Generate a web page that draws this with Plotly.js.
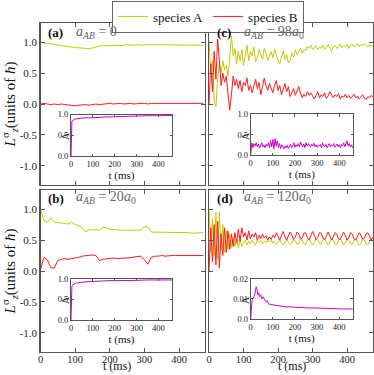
<!DOCTYPE html>
<html>
<head>
<meta charset="utf-8">
<script src="https://cdn.plot.ly/plotly-3.0.1.min.js"></script>
<style>
  html, body { margin: 0; padding: 0; background: #fff; }
  #chart { width: 374px; height: 375px; }
</style>
</head>
<body>
<div id="chart"></div>
<script>
"use strict";

// ---- data ----

// panels (a) and (b): time grid, every 10 ms
var tAB = [0,10,20,30,40,50,60,70,80,90,100,110,120,130,140,150,160,170,180,190,200,210,220,230,
	240,250,260,270,280,290,300,310,320,330,340,350,360,370,380,390,400,410,420,430,440,450,460,470];

var aSpeciesA = [1.00,0.98,0.98,0.97,0.96,0.96,0.95,0.94,0.93,0.92,0.91,0.91,0.91,0.90,0.89,0.91,0.93,0.94,0.94,0.94,
	0.95,0.95,0.94,0.95,0.95,0.96,0.95,0.95,0.96,0.95,0.95,0.96,0.96,0.95,0.95,0.96,0.95,0.95,0.95,0.96,
	0.95,0.95,0.95,0.95,0.96,0.95,0.95,0.95];
var aSpeciesB = [0.00,0.01,0.00,-0.01,0.00,-0.01,0.00,-0.01,-0.02,-0.02,-0.03,-0.02,-0.01,-0.01,-0.02,-0.01,0.00,-0.01,0.00,0.00,
	0.01,0.00,0.01,0.01,0.00,0.01,0.01,0.00,0.01,0.01,0.01,0.00,0.01,0.01,0.01,0.00,0.01,0.01,0.01,0.01,
	0.00,0.01,0.01,0.01,0.00,0.01,0.01,0.01];

var bSpeciesA = [1.00,0.81,0.79,0.86,0.79,0.78,0.78,0.77,0.76,0.79,0.75,0.73,0.70,0.63,0.67,0.66,0.67,0.66,0.71,0.70,
	0.67,0.67,0.66,0.66,0.66,0.66,0.66,0.65,0.66,0.66,0.72,0.71,0.63,0.63,0.63,0.62,0.62,0.62,0.62,0.62,
	0.62,0.62,0.62,0.62,0.61,0.62,0.62,0.62];
var bSpeciesB = [0.02,0.22,0.18,0.05,0.05,0.17,0.19,0.20,0.19,0.20,0.20,0.22,0.24,0.25,0.25,0.26,0.25,0.17,0.19,0.20,
	0.20,0.21,0.20,0.21,0.21,0.21,0.22,0.22,0.23,0.24,0.18,0.11,0.22,0.24,0.24,0.25,0.24,0.25,0.25,0.25,
	0.25,0.26,0.25,0.25,0.25,0.26,0.25,0.25];

// panels (c) and (d): time grid, every 5 ms
var tCD = [0,5,10,15,20,25,30,35,40,45,50,55,60,65,70,75,80,85,90,95,100,105,110,115,120,125,130,135,140,145,
	150,155,160,165,170,175,180,185,190,195,200,205,210,215,220,225,230,235,240,245,250,255,260,265,270,275,
	280,285,290,295,300,305,310,315,320,325,330,335,340,345,350,355,360,365,370,375,380,385,390,395,400,405,
	410,415,420,425,430,435,440,445,450,455,460,465,470,475];

var cSpeciesA = [1.00,0.55,0.70,0.05,-0.05,0.40,0.65,0.50,0.70,0.55,0.62,0.45,0.75,1.10,0.78,0.90,0.65,0.85,0.70,0.88,
	0.62,0.80,0.95,0.70,0.85,0.78,0.92,0.68,0.75,0.88,0.80,0.72,0.90,0.82,0.70,0.78,0.85,0.75,0.88,0.80,
	0.70,0.65,0.78,0.86,0.72,0.80,0.66,0.70,0.82,0.76,0.88,0.80,0.84,0.90,0.82,0.88,0.86,0.93,0.90,0.95,
	0.88,0.92,0.94,0.88,0.92,0.90,0.95,0.88,0.93,0.96,0.90,0.85,0.92,0.95,0.90,0.94,0.97,0.91,0.94,0.92,
	0.96,0.90,0.95,0.97,0.92,0.95,0.98,0.93,0.96,0.94,0.97,0.95,0.92,0.96,0.94,0.93];
var cSpeciesB = [0.00,0.65,0.20,0.85,0.40,1.05,0.70,0.30,0.50,0.35,0.45,0.20,-0.10,0.15,0.45,0.30,0.40,0.25,0.38,0.20,
	0.35,0.30,0.42,0.22,0.30,0.18,0.32,0.40,0.25,0.35,0.15,0.28,0.42,0.30,0.22,0.33,0.25,0.18,0.30,0.38,
	0.22,0.30,0.15,0.25,0.33,0.20,0.28,0.12,0.18,0.25,0.14,0.20,0.28,0.18,0.10,0.16,0.12,0.20,0.14,0.18,
	0.12,0.08,0.14,0.20,0.10,0.15,0.12,0.18,0.09,0.13,0.20,0.14,0.10,0.15,0.12,0.17,0.08,0.13,0.11,0.16,
	0.10,0.14,0.09,0.12,0.16,0.10,0.13,0.08,0.12,0.15,0.10,0.07,0.12,0.10,0.14,0.11];

var dSpeciesA = [1.00,0.30,0.85,0.25,0.95,0.20,0.95,0.35,0.75,0.30,0.65,0.35,0.60,0.38,0.55,0.40,0.52,0.38,0.50,0.40,
	0.45,0.50,0.42,0.48,0.44,0.50,0.45,0.42,0.50,0.46,0.49,0.44,0.48,0.46,0.50,0.47,0.50,0.45,0.48,0.43,
	0.46,0.51,0.45,0.42,0.47,0.52,0.46,0.43,0.45,0.51,0.49,0.43,0.44,0.51,0.50,0.44,0.43,0.49,0.52,0.47,
	0.42,0.46,0.52,0.50,0.44,0.43,0.50,0.52,0.46,0.42,0.46,0.52,0.50,0.44,0.43,0.50,0.52,0.47,0.42,0.46,
	0.52,0.50,0.44,0.43,0.50,0.52,0.46,0.42,0.45,0.51,0.50,0.44,0.43,0.49,0.52,0.48];
var dSpeciesB = [0.00,0.70,0.15,0.75,0.10,0.80,0.05,0.60,0.25,0.70,0.30,0.65,0.35,0.60,0.40,0.62,0.45,0.68,0.48,0.70,
	0.55,0.62,0.50,0.65,0.52,0.60,0.55,0.62,0.50,0.58,0.52,0.60,0.53,0.57,0.50,0.55,0.51,0.58,0.54,0.62,
	0.56,0.50,0.58,0.64,0.55,0.50,0.57,0.63,0.58,0.51,0.55,0.63,0.60,0.52,0.53,0.61,0.62,0.54,0.50,0.58,
	0.64,0.58,0.51,0.54,0.62,0.61,0.53,0.51,0.58,0.63,0.57,0.50,0.55,0.62,0.60,0.52,0.51,0.58,0.63,0.57,
	0.50,0.54,0.62,0.60,0.52,0.50,0.57,0.62,0.58,0.51,0.53,0.60,0.62,0.55,0.50,0.55];

// insets: Lambda vs t
var tLamAB = [0,1,2,4,6,10,15,20,30,40,60,80,100,130,160,200,250,300,350,400,450,475];
var aLambda = [0,0.40,0.70,0.82,0.85,0.87,0.88,0.89,0.90,0.91,0.92,0.92,0.93,0.93,0.94,0.95,0.96,0.96,0.97,0.97,0.98,0.98];
var bLambda = [0,0.40,0.70,0.80,0.84,0.86,0.88,0.89,0.90,0.91,0.92,0.93,0.93,0.94,0.95,0.95,0.96,0.96,0.97,0.97,0.97,0.97];
var cLambda = [0.00,0.30,0.18,0.28,0.22,0.30,0.20,0.27,0.17,0.25,0.30,0.20,0.24,0.18,0.26,0.22,0.30,0.18,0.35,0.20,
	0.38,0.15,0.40,0.22,0.35,0.18,0.28,0.16,0.25,0.20,0.15,0.22,0.18,0.24,0.16,0.20,0.26,0.18,0.22,0.30,
	0.19,0.25,0.21,0.28,0.20,0.32,0.24,0.20,0.27,0.18,0.30,0.22,0.28,0.24,0.20,0.26,0.22,0.29,0.21,0.25,
	0.19,0.24,0.22,0.26,0.18,0.30,0.22,0.20,0.26,0.18,0.24,0.28,0.20,0.25,0.22,0.28,0.19,0.24,0.27,0.20,
	0.25,0.18,0.26,0.22,0.30,0.20,0.27,0.35,0.22,0.28,0.20,0.25,0.18,0.22,0.16,0.18];
var tLamD = [0,3,6,10,15,20,25,28,32,36,40,45,50,55,60,65,70,75,80,90,100,110,120,140,160,180,200,230,260,290,320,350,380,410,440,475];
var dLambda = [0,0.006,0.009,0.010,0.011,0.013,0.016,0.015,0.012,0.013,0.011,0.012,0.010,0.011,0.010,0.009,0.0085,0.009,0.0075,0.0072,
	0.007,0.0068,0.0065,0.0063,0.006,0.006,0.0058,0.0057,0.0055,0.0055,0.0053,0.0052,0.0051,0.005,0.005,0.005];

// tick labels
var mainYTickVals = [-1,-0.5,0,0.5,1];
var mainYTickText = ['-1.0','-0.5','0.0','0.5','1.0'];
var xTickVals = [0,100,200,300,400];
var lamTickVals = [0,0.5,1];
var lamTickText = ['0.0','0.5','1.0'];
var lamDTickVals = [0,0.01,0.02];
var lamDTickText = ['0.0','0.01','0.02'];

// ---- styling ----
var serif = 'Liberation Serif, Times New Roman, serif';
var colA = '#c8c800';
var colB = '#ff1a1a';
var colL = '#cc00cc';
var frame = '#555';

// plot area in pixels: l=40, t=23, w=333, h=329
function px2x(px){ return (px-40)/333; }
function py2y(py){ return 1-(py-23)/329; }

function mainAxis(domain, showLabels, extra){
	var ax = {
		domain: domain,
		showline: true, linecolor: frame, linewidth: 1.2, mirror: 'ticks',
		ticks: 'inside', ticklen: 4, tickcolor: frame, tickwidth: 1,
		showgrid: false, zeroline: false,
		showticklabels: showLabels,
		tickfont: {family: serif, size: 11, color: '#222'}
	};
	return Object.assign(ax, extra);
}
function insetAxis(domain, extra){
	var ax = {
		domain: domain,
		showline: true, linecolor: frame, linewidth: 1, mirror: 'ticks',
		ticks: 'inside', ticklen: 2.5, tickcolor: frame, tickwidth: 1,
		showgrid: false, zeroline: false,
		tickfont: {family: serif, size: 8.5, color: '#222'}
	};
	return Object.assign(ax, extra);
}

var mainX = {range: [0, 475], tickvals: xTickVals};
var bottomX = {range: [0, 475], tickvals: xTickVals, ticklabelstandoff: -3,
	tickfont: {family: serif, size: 10.5, color: '#222'}};
var mainY = {range: [-1.31, 1.31], tickvals: mainYTickVals, ticktext: mainYTickText};
var yTitle = {text: '<i>L</i><sup>σ</sup><sub><i>z</i></sub>(units of <i>ħ</i>)', font: {family: serif, size: 15, color: '#111'}, standoff: 4};
var tTitleIn = {text: 't (ms)', font: {family: serif, size: 11, color: '#111'}, standoff: 2};

var colLeft = [px2x(40.5), px2x(205)];
var colRight = [px2x(209), px2x(373)];
var rowTop = [py2y(185), py2y(23)];
var rowBot = [py2y(352), py2y(190)];

var layout = {
	width: 374, height: 375,
	margin: {l: 40, r: 1, t: 23, b: 23},
	paper_bgcolor: '#fff', plot_bgcolor: 'rgba(0,0,0,0)',
	font: {family: serif, color: '#111'},
	showlegend: true,
	legend: {
		orientation: 'h', x: px2x(208), xanchor: 'center', y: py2y(0.5), yanchor: 'top',
		bordercolor: '#666', borderwidth: 1, bgcolor: '#fff',
		font: {family: serif, size: 13, color: '#111'}
	},
	// (a) top-left, (b) bottom-left, (c) top-right, (d) bottom-right
	xaxis: mainAxis(colLeft, false, Object.assign({anchor: 'y'}, mainX)),
	yaxis: mainAxis(rowTop, true, Object.assign({anchor: 'x', title: yTitle}, mainY)),
	xaxis2: mainAxis(colLeft, true, Object.assign({anchor: 'y2'}, bottomX)),
	yaxis2: mainAxis(rowBot, true, Object.assign({anchor: 'x2', title: yTitle}, mainY)),
	xaxis3: mainAxis(colRight, false, Object.assign({anchor: 'y3'}, mainX)),
	yaxis3: mainAxis(rowTop, false, Object.assign({anchor: 'x3'}, mainY)),
	xaxis4: mainAxis(colRight, true, Object.assign({anchor: 'y4'}, bottomX)),
	yaxis4: mainAxis(rowBot, false, Object.assign({anchor: 'x4'}, mainY)),
	// insets
	xaxis5: insetAxis([px2x(71), px2x(172)], {anchor: 'y5', range: [0, 462], tickvals: xTickVals, title: tTitleIn}),
	yaxis5: insetAxis([py2y(156), py2y(114.5)], {anchor: 'x5', range: [0, 1], tickvals: lamTickVals, ticktext: lamTickText}),
	xaxis6: insetAxis([px2x(71), px2x(172)], {anchor: 'y6', range: [0, 462], tickvals: xTickVals, title: tTitleIn}),
	yaxis6: insetAxis([py2y(320), py2y(278.7)], {anchor: 'x6', range: [0, 1], tickvals: lamTickVals, ticktext: lamTickText}),
	xaxis7: insetAxis([px2x(250.7), px2x(353)], {anchor: 'y7', range: [0, 462], tickvals: xTickVals, title: tTitleIn}),
	yaxis7: insetAxis([py2y(155), py2y(114.3)], {anchor: 'x7', range: [0, 1], tickvals: lamTickVals, ticktext: lamTickText}),
	xaxis8: insetAxis([px2x(250.7), px2x(352.7)], {anchor: 'y8', range: [0, 462], tickvals: xTickVals, title: tTitleIn}),
	yaxis8: insetAxis([py2y(319), py2y(278.7)], {anchor: 'x8', range: [0, 0.02], tickvals: lamDTickVals, ticktext: lamDTickText}),
	annotations: []
};

// panel labels
var labelFont = {family: serif, size: 13, color: '#111'};
var mathFont = {family: serif, size: 14, color: '#666'};
var panelLabels = [
	{tag: '<b>(a)</b>', math: '<i>a</i><sub><i>AB</i></sub> = 0', x: 46, x2: 74, y: 33},
	{tag: '<b>(b)</b>', math: '<i>a</i><sub><i>AB</i></sub> = 20<i>a</i><sub>0</sub>', x: 46, x2: 74, y: 198},
	{tag: '<b>(c)</b>', math: '<i>a</i><sub><i>AB</i></sub> = 98<i>a</i><sub>0</sub>', x: 215, x2: 242, y: 33},
	{tag: '<b>(d)</b>', math: '<i>a</i><sub><i>AB</i></sub> = 120<i>a</i><sub>0</sub>', x: 215, x2: 242, y: 198}
];
for(const p of panelLabels){
	layout.annotations.push({xref: 'paper', yref: 'paper', x: px2x(p.x), y: py2y(p.y), xanchor: 'left', yanchor: 'middle',
		text: p.tag, showarrow: false, font: labelFont});
	// math label: anchor the bottom of its box (subscripts included) just under the tag
	layout.annotations.push({xref: 'paper', yref: 'paper', x: px2x(p.x2), y: py2y(p.y + 10), xanchor: 'left', yanchor: 'bottom',
		text: p.math, showarrow: false, font: mathFont});
}
// Lambda labels on the insets, drawn tight to the axis
var lamLabelPos = [[65, 136], [65, 300], [245, 136], [245, 300]];
for(const pos of lamLabelPos){
	layout.annotations.push({xref: 'paper', yref: 'paper', x: px2x(pos[0]), y: py2y(pos[1]), xanchor: 'center', yanchor: 'middle',
		text: 'Λ', textangle: -90, showarrow: false, font: {family: serif, size: 10, color: '#111'}});
}
// bottom axis titles, placed under the tick labels
var tTitlePos = [117, 292];
for(const xp of tTitlePos){
	layout.annotations.push({xref: 'paper', yref: 'paper', x: px2x(xp), y: py2y(375), xanchor: 'center', yanchor: 'bottom',
		text: 't (ms)', showarrow: false, font: {family: serif, size: 12, color: '#111'}});
}

function line(x, y, color, xa, ya, name, legend){
	return {x: x, y: y, xaxis: xa, yaxis: ya, type: 'scatter', mode: 'lines', name: name,
		showlegend: legend, hoverinfo: 'skip', line: {color: color, width: 1}};
}

var data = [
	line(tAB, aSpeciesA, colA, 'x', 'y', 'species A', true),
	line(tAB, aSpeciesB, colB, 'x', 'y', 'species B', true),
	line(tAB, bSpeciesA, colA, 'x2', 'y2', 'species A', false),
	line(tAB, bSpeciesB, colB, 'x2', 'y2', 'species B', false),
	line(tCD, cSpeciesA, colA, 'x3', 'y3', 'species A', false),
	line(tCD, cSpeciesB, colB, 'x3', 'y3', 'species B', false),
	line(tCD, dSpeciesA, colA, 'x4', 'y4', 'species A', false),
	line(tCD, dSpeciesB, colB, 'x4', 'y4', 'species B', false),
	line(tLamAB, aLambda, colL, 'x5', 'y5', 'Λ', false),
	line(tLamAB, bLambda, colL, 'x6', 'y6', 'Λ', false),
	line(tCD, cLambda, colL, 'x7', 'y7', 'Λ', false),
	line(tLamD, dLambda, colL, 'x8', 'y8', 'Λ', false)
];

Plotly.newPlot('chart', data, layout, {staticPlot: true, displayModeBar: false});
</script>
</body>
</html>
